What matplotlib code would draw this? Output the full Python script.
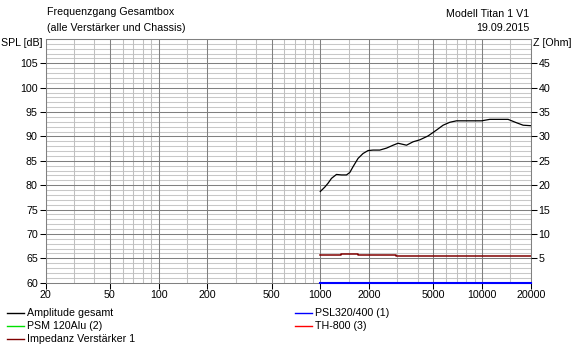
import matplotlib
matplotlib.use("Agg")
import matplotlib.pyplot as plt
from matplotlib.lines import Line2D
from matplotlib.ticker import FixedLocator, NullFormatter

plt.rcParams['font.family'] = ['Liberation Sans', 'DejaVu Sans']
plt.rcParams['font.size'] = 7.7

# --- data ---
amp_freq = [1000, 1066, 1117, 1173, 1259, 1352, 1452, 1522, 1595, 1713, 1839, 1975,
            2121, 2333, 2567, 2820, 3027, 3413, 3750, 4124, 4640, 5230, 5746, 6324,
            6956, 8410, 9930, 11170, 14500, 16350, 17960, 20000]
amp_spl = [78.7, 79.6, 80.4, 81.4, 82.2, 82.1, 82.1, 82.6, 83.8, 85.5, 86.5, 87.1,
           87.2, 87.2, 87.6, 88.2, 88.6, 88.2, 88.9, 89.3, 90.1, 91.3, 92.3, 92.9,
           93.2, 93.2, 93.2, 93.5, 93.5, 92.8, 92.3, 92.2]

psl_freq = [1000, 20000]
psl_spl = [60.0, 60.0]

imp_freq = [1000, 1350, 1350, 1713, 1713, 2930, 2930, 20000]
imp_ohm = [5.62, 5.62, 5.82, 5.82, 5.62, 5.62, 5.44, 5.44]

x_ticks = [20, 50, 100, 200, 500, 1000, 2000, 5000, 10000, 20000]
x_minor = [30, 40, 60, 70, 80, 90, 150, 300, 400, 600, 700, 800, 900,
           1500, 3000, 4000, 6000, 7000, 8000, 9000, 15000]
spl_ticks = [60, 65, 70, 75, 80, 85, 90, 95, 100, 105]
z_ticks = [5, 10, 15, 20, 25, 30, 35, 40, 45]

legend_items = [("Amplitude gesamt", "#000000"), ("PSM 120Alu (2)", "#00e000"),
                ("Impedanz Verstärker 1", "#800000"),
                ("PSL320/400 (1)", "#0000ff"), ("TH-800 (3)", "#ff0000")]

# --- figure ---
fig = plt.figure(figsize=(5.75, 3.46), dpi=100)
L, R = 45.5 / 575, 530.7 / 575
B, T = 1 - 282.7 / 346, 1 - 38.9 / 346
ax = fig.add_axes([L, B, R - L, T - B])
ax.set_xscale('log')
ax.set_xlim(20, 20000)
ax.set_ylim(60, 110)

# grid
for y in range(61, 110):
    if y % 5:
        ax.axhline(y, color='#c8c8c8', lw=0.75, zorder=0)
for y in range(65, 111, 5):
    ax.axhline(y, color='#808080', lw=0.75, zorder=0.5)
for f in x_minor:
    ax.axvline(f, color='#c0c0c0', lw=0.75, zorder=0.2)
for f in x_ticks:
    ax.axvline(f, color='#808080', lw=0.75, zorder=0.6)

ax.xaxis.set_major_locator(FixedLocator(x_ticks))
ax.xaxis.set_minor_locator(FixedLocator([]))
ax.set_xticklabels([str(v) for v in x_ticks])
ax.yaxis.set_major_locator(FixedLocator(spl_ticks))
ax.yaxis.set_minor_formatter(NullFormatter())
ax.tick_params(axis='both', direction='out', length=4, width=0.75, colors='black',
               labelsize=7.7, pad=1.5)
for s in ax.spines.values():
    s.set_color('#808080')
    s.set_linewidth(0.75)

ax.plot(amp_freq, amp_spl, color='black', lw=0.9, zorder=3)
ax.plot(psl_freq, psl_spl, color='#0000ff', lw=1.5, zorder=4, clip_on=False)

ax2 = ax.twinx()
ax2.set_ylim(0, 50)
ax2.yaxis.set_major_locator(FixedLocator(z_ticks))
ax2.tick_params(axis='y', direction='out', length=4, width=0.75, colors='black',
                labelsize=7.7, pad=1.5)
for s in ax2.spines.values():
    s.set_visible(False)
ax2.plot(imp_freq, imp_ohm, color='#800000', lw=1.1, zorder=3)

# texts
fig.text(47 / 575, 1 - 12 / 346, "Frequenzgang Gesamtbox", ha='left', va='center')
fig.text(47 / 575, 1 - 28 / 346, "(alle Verstärker und Chassis)", ha='left', va='center')
fig.text(529 / 575, 1 - 14 / 346, "Modell Titan 1 V1", ha='right', va='center')
fig.text(529 / 575, 1 - 28 / 346, "19.09.2015", ha='right', va='center')
fig.text(1 / 575, 1 - 43 / 346, "SPL [dB]", ha='left', va='center')
fig.text(533 / 575, 1 - 43 / 346, "Z [Ohm]", ha='left', va='center')

# legend
rows = [313, 326, 339, 313, 326]
cols = [7, 7, 7, 295, 295]
for (lab, col), ry, cx in zip(legend_items, rows, cols):
    yy = 1 - ry / 346
    fig.add_artist(Line2D([cx / 575, (cx + 17) / 575], [yy, yy], color=col, lw=1.0,
                          transform=fig.transFigure))
    fig.text((cx + 20) / 575, yy, lab, ha='left', va='center')

fig.savefig("out.png", dpi=100)
